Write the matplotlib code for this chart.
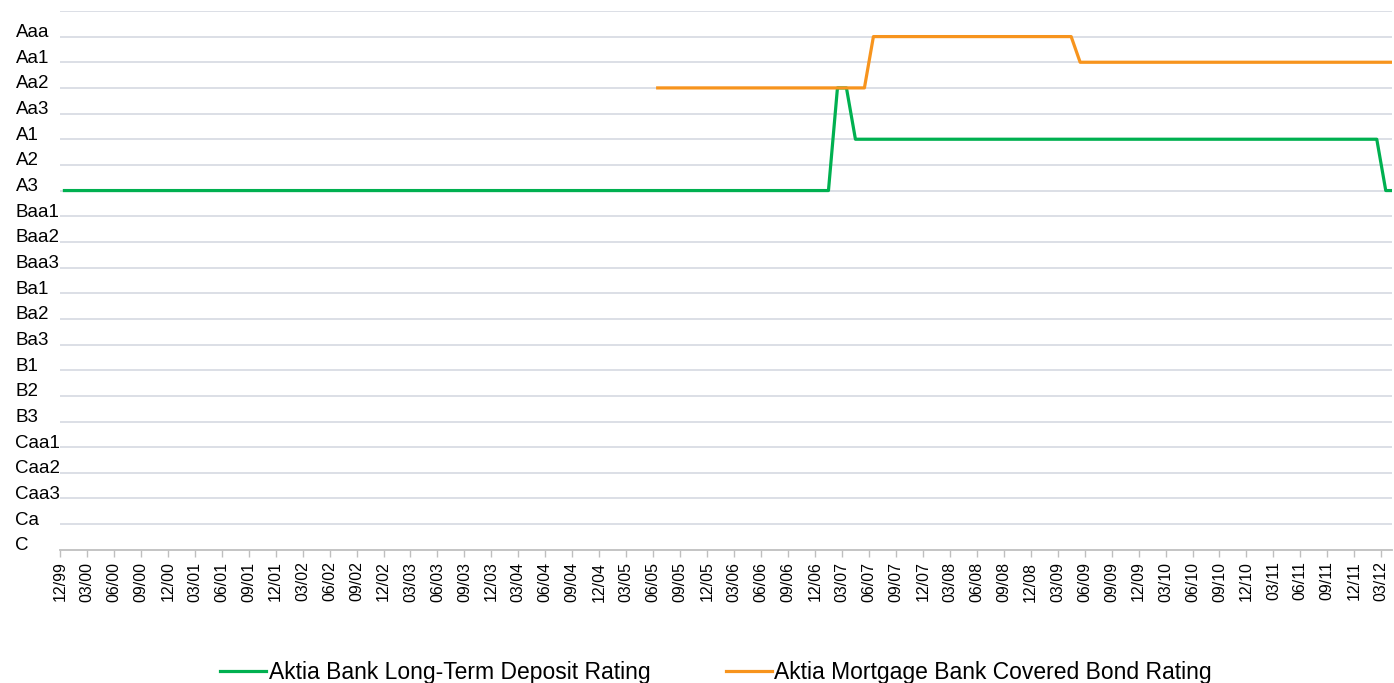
import numpy as np
import matplotlib.pyplot as plt
import matplotlib.transforms as mtransforms

plt.rcParams['font.family'] = ['Liberation Sans', 'DejaVu Sans']

# rating scale, bottom to top
ratings = ["C", "Ca", "Caa3", "Caa2", "Caa1", "B3", "B2", "B1", "Ba3", "Ba2", "Ba1",
           "Baa3", "Baa2", "Baa1", "A3", "A2", "A1", "Aa3", "Aa2", "Aa1", "Aaa"]
lvl = {r: i for i, r in enumerate(ratings)}

# quarterly tick labels 12/99 .. 03/12
quarters = ["12/99"] + [f"{m}/{y:02d}" for y in range(0, 12) for m in ("03", "06", "09", "12")] + ["03/12"]

# monthly observations starting 12/99 (index = months since 12/99)
n_months = 149
deposit = ["A3"] * 86 + ["Aa2"] * 2 + ["A1"] * 59 + ["A3"] * 2
covered_start = 66
covered = ["Aa2"] * 24 + ["Aaa"] * 23 + ["Aa1"] * 36

months = np.arange(n_months)
dep_y = [lvl[r] for r in deposit]
cov_x = np.arange(covered_start, covered_start + len(covered))
cov_y = [lvl[r] for r in covered]

fig = plt.figure(figsize=(13.94, 6.83), dpi=100)
ax = fig.add_axes([0.043, 0.195, 0.9556, 0.789])

grid_col = "#d9dce4"
for y in range(1, len(ratings) + 1):
    ax.axhline(y, color=grid_col, lw=1.3, zorder=0)

ax.plot(months, dep_y, color="#00b050", lw=2.3, label="Aktia Bank Long-Term Deposit Rating", zorder=3)
ax.plot(cov_x, cov_y, color="#f7941d", lw=2.3, label="Aktia Mortgage Bank Covered Bond Rating", zorder=3)

ax.set_ylim(0, len(ratings))
ax.set_xlim(-0.5, 147.7)
ax.set_yticks(range(len(ratings)))
ax.set_yticklabels(ratings, fontsize=13.5, ha="left", va="center")
ax.tick_params(axis="y", length=0, pad=32)
# labels sit a little above their gridline
shift = mtransforms.ScaledTranslation(0, 4 / 100, fig.dpi_scale_trans)
for lab in ax.get_yticklabels():
    lab.set_transform(lab.get_transform() + shift)

ax.set_xticks(np.arange(len(quarters)) * 3 - 0.5)
ax.set_xticklabels(quarters, rotation=90, fontsize=11.5)
ax.tick_params(axis="x", length=5, color="#bfbfbf", width=1)

for s in ("top", "right", "left"):
    ax.spines[s].set_visible(False)
ax.spines["bottom"].set_color("#bfbfbf")
ax.spines["bottom"].set_linewidth(1.3)

fig.legend(loc="center", bbox_to_anchor=(0.5136, 10 / 683), ncol=2, frameon=False,
           fontsize=16.5, handlelength=2.0, handletextpad=0.1, columnspacing=3.3)

plt.savefig("out.png", dpi=100)
